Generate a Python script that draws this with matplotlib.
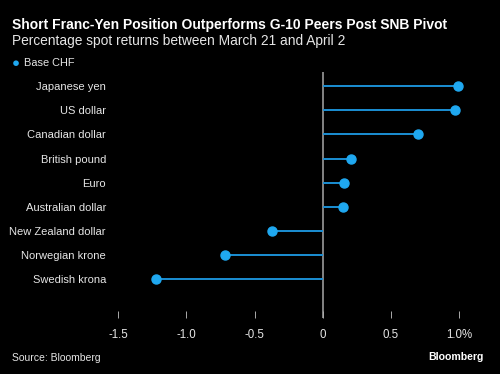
import matplotlib.pyplot as plt

currencies = ["Japanese yen", "US dollar", "Canadian dollar", "British pound", "Euro",
              "Australian dollar", "New Zealand dollar", "Norwegian krone", "Swedish krona"]
returns = [0.99, 0.97, 0.70, 0.21, 0.16, 0.15, -0.37, -0.72, -1.22]
xticks = [-1.5, -1.0, -0.5, 0, 0.5, 1.0]
xtick_labels = ["-1.5", "-1.0", "-0.5", "0", "0.5", "1.0%"]

plt.rcParams["font.family"] = ["Liberation Sans", "DejaVu Sans"]
bg = "black"
dot_color = "#1fa8f0"
stem_color = "#1b8fd4"
text_color = "#e6e6e6"

fig = plt.figure(figsize=(5, 3.74), dpi=100, facecolor=bg)
ax = fig.add_axes([104.6 / 500, 1 - 318 / 374, (472.6 - 104.6) / 500, (318 - 72) / 374])
ax.set_facecolor(bg)

ypos = list(range(len(currencies)))
ax.hlines(ypos, 0, returns, color=stem_color, linewidth=1.4, zorder=2)
ax.plot(returns, ypos, "o", color=dot_color, markersize=6.5, zorder=3)
ax.axvline(0, color="#9a9a9a", linewidth=1.2, zorder=1)

ax.set_xlim(-1.6, 1.1)
ax.set_ylim(9.6, -0.58)
ax.set_yticks(ypos)
ax.set_yticklabels(currencies)
ax.set_xticks(xticks)
ax.set_xticklabels(xtick_labels)
ax.tick_params(axis="y", length=0, pad=-1, labelsize=8.0, labelcolor=text_color)
ax.tick_params(axis="x", direction="in", length=5, width=0.7, color="#aaaaaa",
               pad=8, labelsize=8.3, labelcolor=text_color)
for s in ax.spines.values():
    s.set_visible(False)

fig.text(11.7 / 500, 1 - 25 / 374, "Short Franc-Yen Position Outperforms G-10 Peers Post SNB Pivot",
         color="white", fontsize=10.0, fontweight="bold", va="center", ha="left")
fig.text(11.7 / 500, 1 - 40.5 / 374, "Percentage spot returns between March 21 and April 2",
         color=text_color, fontsize=9.95, va="center", ha="left")
fig.text(15.7 / 500, 1 - 63.5 / 374, "\u25cf", color=dot_color, fontsize=9.5, va="center", ha="center")
fig.text(24.5 / 500, 1 - 63.5 / 374, "Base CHF", color=text_color, fontsize=7.9, va="center", ha="left")
fig.text(11.7 / 500, 1 - 358 / 374, "Source: Bloomberg", color=text_color, fontsize=7.5, va="center", ha="left")
fig.text(484 / 500, 1 - 357 / 374, "Bloomberg", color="white", fontsize=7.6, fontweight="bold",
         va="center", ha="right")

fig.savefig("out.png", dpi=100, facecolor=bg)
